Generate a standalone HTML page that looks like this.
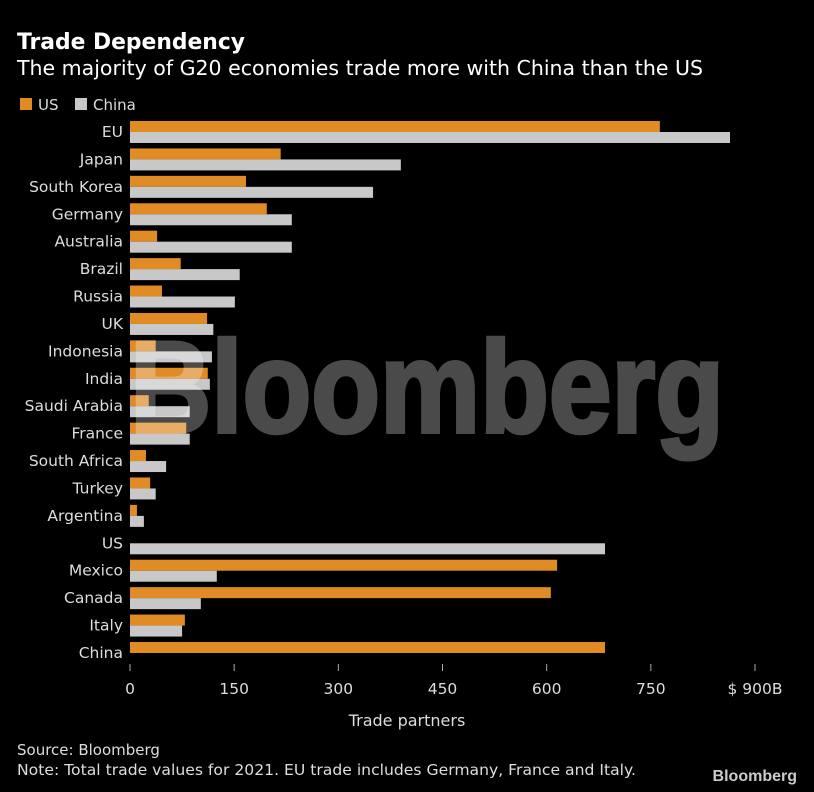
<!DOCTYPE html>
<html><head><meta charset="utf-8"><style>
html,body{margin:0;padding:0;background:#000;}
svg{display:block;font-family:"DejaVu Sans","Liberation Sans",sans-serif;}
</style></head><body>
<svg id="chart" width="814" height="792" viewBox="0 0 814 792">
<rect width="814" height="792" fill="#000"/>
<text x="17" y="49" fill="#fff" font-size="22" font-weight="bold" textLength="228" lengthAdjust="spacingAndGlyphs">Trade Dependency</text>
<text x="17" y="75" fill="#fff" font-size="20" textLength="686" lengthAdjust="spacingAndGlyphs">The majority of G20 economies trade more with China than the US</text>
<g>
<rect x="20" y="98" width="12" height="12" fill="#e08b24"/>
<text x="38" y="110" fill="#ddd" font-size="15">US</text>
<rect x="75" y="98" width="12" height="12" fill="#c8c8c8"/>
<text x="93" y="110" fill="#ddd" font-size="15">China</text>
</g>
<g id="bars"></g>
<g id="labels"></g>
<g id="axis"></g>
<text x="407" y="726" fill="#ddd" font-size="16" text-anchor="middle">Trade partners</text>
<text x="17" y="755" fill="#ddd" font-size="15">Source: Bloomberg</text>
<text x="17" y="775" fill="#ddd" font-size="15" textLength="619" lengthAdjust="spacingAndGlyphs">Note: Total trade values for 2021. EU trade includes Germany, France and Italy.</text>
<text x="797" y="781" fill="#ccc" font-size="16" font-weight="bold" text-anchor="end" font-family="Liberation Sans">Bloomberg</text>
<g opacity="0.29">
<text x="130" y="432" fill="#fff" stroke="#fff" stroke-width="4" font-family="Liberation Sans" font-size="130" font-weight="bold" textLength="594" lengthAdjust="spacingAndGlyphs">Bloomberg</text>
</g>
</svg>
<script>
const categories=["EU","Japan","South Korea","Germany","Australia","Brazil","Russia","UK","Indonesia","India","Saudi Arabia","France","South Africa","Turkey","Argentina","US","Mexico","Canada","Italy","China"];
const usValues=[763,217,167,197,39,73,46,111,37,112,27,81,23,29,10,0,615,606,79,684];
const chinaValues=[864,390,350,233,233,158,151,120,118,115,86,86,52,37,20,684,125,102,75,0];
const tickValues=[0,150,300,450,600,750,900];
const tickLabels=["0","150","300","450","600","750","$ 900B"];
const NS="http://www.w3.org/2000/svg";
const x=v=>130+v*(625/900);
const rowY=i=>132+i*27.42;
const bars=document.getElementById('bars'),labels=document.getElementById('labels'),axis=document.getElementById('axis');
function mk(t,a,p){const e=document.createElementNS(NS,t);for(const k in a)e.setAttribute(k,a[k]);p.appendChild(e);return e;}
categories.forEach((c,i)=>{
 const cy=rowY(i);
 if(usValues[i]>0){const r=mk('rect',{x:x(0),y:cy-11,width:x(usValues[i])-x(0),height:11,fill:'#e08b24'},bars);
 
 }
 if(chinaValues[i]>0){const r=mk('rect',{x:x(0),y:cy,width:x(chinaValues[i])-x(0),height:11,fill:'#c8c8c8'},bars);
 
 }
 const t=mk('text',{x:123,y:cy+5,fill:'#ddd','font-size':15.5,'text-anchor':'end'},labels);
 t.textContent=c;
 
 
});
tickValues.forEach((v,i)=>{
 const l=mk('line',{x1:x(v),x2:x(v),y1:664,y2:671,stroke:'#aaa','stroke-width':1},axis);
 
 
 const t=mk('text',{x:x(v),y:694,fill:'#ddd','font-size':15.5,'text-anchor':'middle'},axis);
 t.textContent=tickLabels[i];
 
 
});
</script>
</body></html>
